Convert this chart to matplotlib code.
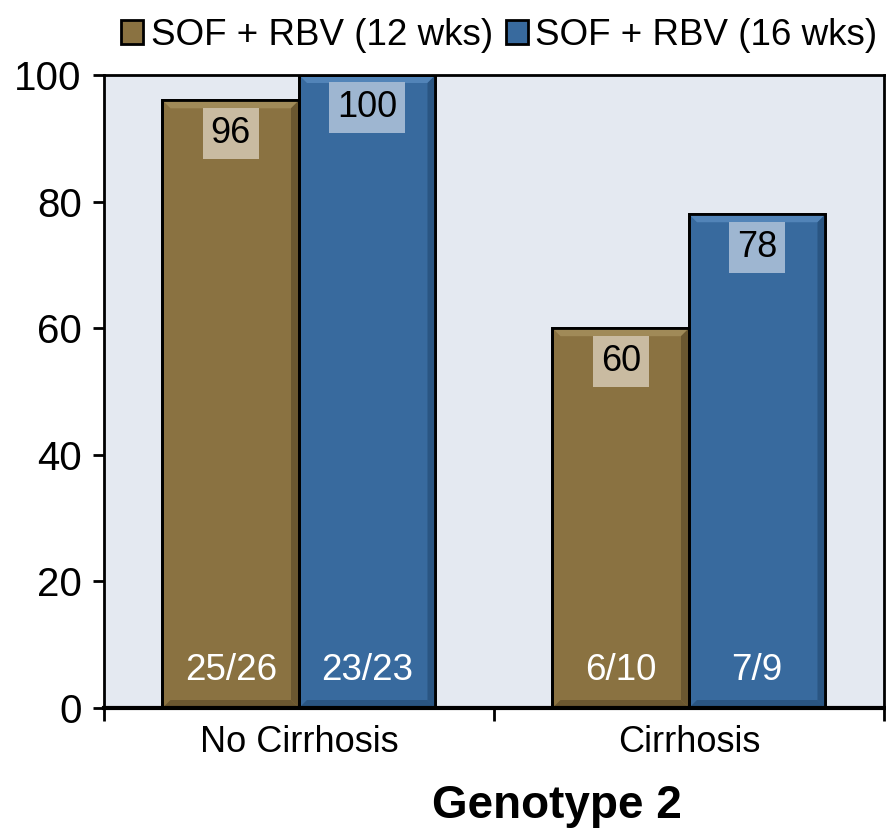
import matplotlib
matplotlib.use("Agg")
import matplotlib.pyplot as plt
from matplotlib.patches import Polygon
import numpy as np

plt.rcParams["font.family"] = ["Liberation Sans", "DejaVu Sans"]

categories = ["No Cirrhosis", "Cirrhosis"]
series_names = ["SOF + RBV (12 wks)", "SOF + RBV (16 wks)"]
svr_12 = [96, 60]
svr_16 = [100, 78]
counts_12 = ["25/26", "6/10"]
counts_16 = ["23/23", "7/9"]
yticks = [0, 20, 40, 60, 80, 100]

colors = ["#8A7241", "#386A9E"]
light = ["#A08A58", "#5284B8"]
dark = ["#6B5730", "#2A5582"]
box_colors = ["#C9BBA1", "#9EB6D1"]

fig = plt.figure(figsize=(8.87, 8.33), dpi=100)
ax = fig.add_axes([104 / 887, 125 / 833, 780 / 887, 633 / 833])
ax.set_facecolor("#E4E9F1")
ax.set_xlim(-0.5, 1.5)
ax.set_ylim(0, 100)

x = np.arange(len(categories))
w = 0.35
# bevel width in data units (about 8 px)
bx = 8 * 2.0 / 780
by = 8 * 100.0 / 633
for i, (vals, counts) in enumerate([(svr_12, counts_12), (svr_16, counts_16)]):
    xs = x + (i - 0.5) * w
    bars = ax.bar(xs, vals, w, color=colors[i], edgecolor="black", linewidth=2,
                  label=series_names[i], zorder=3)
    for b in bars:
        x0, x1 = b.get_x(), b.get_x() + b.get_width()
        y0, y1 = 0, b.get_height()
        ax.add_patch(Polygon([(x0, y1), (x1, y1), (x1 - bx, y1 - by), (x0 + bx, y1 - by)],
                             closed=True, fc=light[i], ec="none", zorder=3.5))
        ax.add_patch(Polygon([(x1, y1), (x1, y0), (x1 - bx, y0 + by), (x1 - bx, y1 - by)],
                             closed=True, fc=dark[i], ec="none", zorder=3.5))
        ax.add_patch(Polygon([(x0, y0), (x1, y0), (x1 - bx, y0 + by), (x0 + bx, y0 + by)],
                             closed=True, fc=dark[i], ec="none", zorder=3.5))
        ax.bar(b.get_x() + b.get_width() / 2, y1, b.get_width(), fc="none",
               ec="black", linewidth=2, zorder=4)
    for xi, v, c in zip(xs, vals, counts):
        ax.text(xi, v - 5.2, str(v), ha="center", va="center", fontsize=26,
                color="black", zorder=5,
                bbox=dict(boxstyle="square,pad=0.22", fc=box_colors[i], ec="none"))
        ax.text(xi, 5.9, c, ha="center", va="center", fontsize=26.5,
                color="white", zorder=5)

ax.set_yticks(yticks)
ax.set_xticks(x)
ax.set_xticklabels(categories, fontsize=26)
ax.tick_params(axis="x", length=0, pad=12)
ax.tick_params(axis="y", labelsize=29, length=8, width=2, direction="out", pad=8)
ax.set_xticks([-0.5, 0.5, 1.5], minor=True)
ax.tick_params(axis="x", which="minor", length=9, width=2, direction="out")
for s in ax.spines.values():
    s.set_linewidth(2)
    s.set_zorder(6)
ax.spines["bottom"].set_linewidth(3)

fig.legend(loc="upper center", bbox_to_anchor=(0.563, 1.018), ncol=2, frameon=False,
           fontsize=26.5, handlelength=0.6, handleheight=0.6, handletextpad=0.2,
           columnspacing=0.35)

fig.text(0.628, 0.033, "Genotype 2", ha="center", va="center", fontsize=33,
         fontweight="bold")

fig.savefig("out.png", dpi=100, facecolor="white")
